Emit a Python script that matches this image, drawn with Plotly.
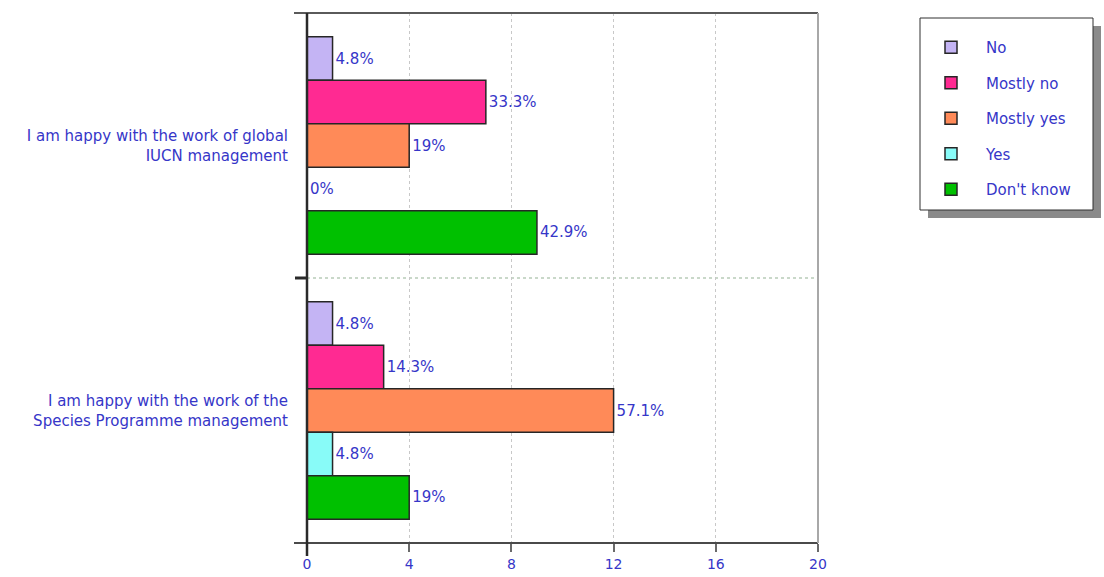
import plotly.graph_objects as go

# Survey responses (number of respondents) per statement
statements = [
    "I am happy with the work of global<br>IUCN management",
    "I am happy with the work of the<br>Species Programme management",
]
answers = ["No", "Mostly no", "Mostly yes", "Yes", "Don't know"]
counts_no = [1, 1]
counts_mostly_no = [7, 3]
counts_mostly_yes = [4, 12]
counts_yes = [0, 1]
counts_dont_know = [9, 4]
total_respondents = 21

x_ticks = [0, 4, 8, 12, 16, 20]

colors = ["#c4b4f4", "#ff2a92", "#ff8a58", "#88fbf8", "#00c000"]
text_blue = "#3636c8"
font_family = "DejaVu Sans, Verdana, sans-serif"

series = [counts_no, counts_mostly_no, counts_mostly_yes, counts_yes, counts_dont_know]

fig = go.Figure()
for name, vals, col in zip(answers, series, colors):
    labels = [f"{round(100 * v / total_respondents, 1):g}%" for v in vals]
    fig.add_trace(go.Bar(
        y=statements,
        x=vals,
        name=name,
        orientation="h",
        legendgroup=name,
        marker=dict(color=col, line=dict(color="#262626", width=1.5)),
        text=labels,
        textposition="outside",
        textfont=dict(color=text_blue, size=15, family=font_family),
        cliponaxis=False,
        constraintext="none",
        hoverinfo="x+y+name",
    ))

# Plot area in pixels: x 307..818, y 13..543
W, H = 1104, 577
L, R, T, B = 307, 818, 13, 543
pw, ph = R - L, B - T


def px_x(p):
    return (p - L) / pw


def px_y(p):
    return (B - p) / ph


shapes = [
    # top frame line and bottom axis line (both run slightly past the y axis)
    dict(type="line", xref="paper", yref="paper", x0=px_x(294), x1=1, y0=1, y1=1,
         line=dict(color="#5a5a5a", width=2), layer="above"),
    dict(type="line", xref="paper", yref="paper", x0=px_x(294), x1=1, y0=0, y1=0,
         line=dict(color="#4a4a4a", width=2), layer="above"),
    # right frame line
    dict(type="line", xref="paper", yref="paper", x0=1, x1=1, y0=0, y1=1,
         line=dict(color="#a8a8a8", width=2), layer="above"),
    # y axis line, extended below the x axis
    dict(type="line", xref="paper", yref="paper", x0=0, x1=0, y0=px_y(556), y1=1,
         line=dict(color="#2a2a2a", width=2.5), layer="above"),
    # separator between the two statements
    dict(type="line", xref="paper", yref="y", x0=0, x1=1, y0=0.5, y1=0.5,
         line=dict(color="#b8ccb8", width=1.5, dash="dot"), layer="below"),
    dict(type="line", xref="paper", yref="y", x0=px_x(295), x1=0, y0=0.5, y1=0.5,
         line=dict(color="#2a2a2a", width=3), layer="above"),
    # legend shadow and box
    dict(type="rect", xref="paper", yref="paper", x0=px_x(928), x1=px_x(1101),
         y0=px_y(218), y1=px_y(26), fillcolor="#8a8a8a", line=dict(width=0), layer="below"),
    dict(type="rect", xref="paper", yref="paper", x0=px_x(920), x1=px_x(1093),
         y0=px_y(210), y1=px_y(18), fillcolor="white", line=dict(color="#303030", width=1),
         layer="below"),
]

fig.update_layout(
    width=W,
    height=H,
    margin=dict(l=L, r=W - R, t=T, b=H - B, pad=0, autoexpand=False),
    paper_bgcolor="white",
    plot_bgcolor="white",
    barmode="group",
    bargap=0.18,
    bargroupgap=0,
    font=dict(family=font_family, color=text_blue, size=15),
    shapes=shapes,
    showlegend=True,
    legend=dict(
        x=px_x(916), xanchor="left",
        y=px_y(31), yanchor="top",
        bgcolor="rgba(0,0,0,0)",
        borderwidth=0,
        traceorder="grouped",
        tracegroupgap=13,
        itemwidth=60,
        font=dict(family=font_family, color=text_blue, size=15),
    ),
    xaxis=dict(
        range=[0, 20],
        tickvals=x_ticks,
        ticktext=[str(t) for t in x_ticks],
        showgrid=True,
        gridcolor="#c8c8c8",
        griddash="dot",
        gridwidth=1,
        zeroline=False,
        showline=False,
        ticks="outside",
        ticklen=8,
        tickcolor="#6a6a6a",
        tickwidth=1.5,
        tickfont=dict(color=text_blue, size=14, family=font_family),
        automargin=False,
        fixedrange=True,
    ),
    yaxis=dict(
        type="category",
        range=[1.5, -0.5],
        showgrid=False,
        zeroline=False,
        showline=False,
        ticks="",
        ticklabelstandoff=18,
        tickfont=dict(color=text_blue, size=15, family=font_family),
        automargin=False,
        fixedrange=True,
    ),
)

fig.write_html("out.html")
